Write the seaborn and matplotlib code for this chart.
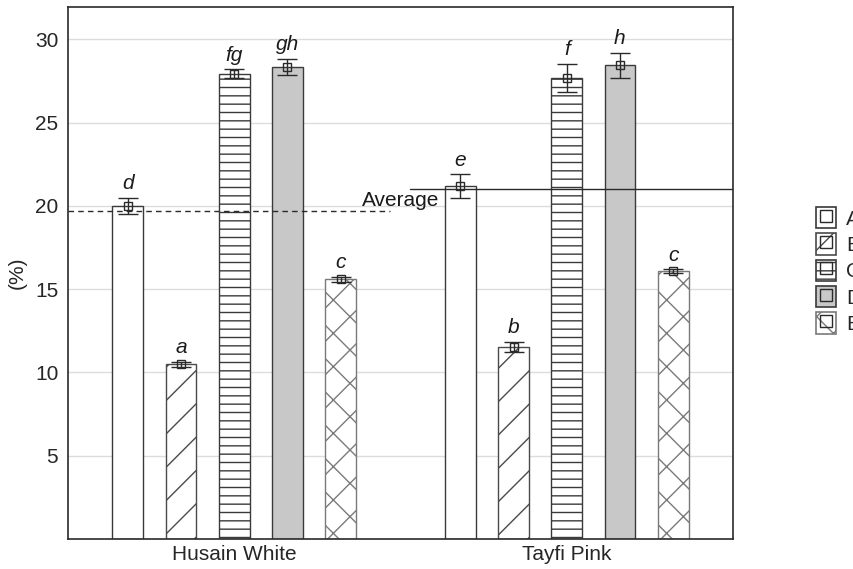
import numpy as np
import pandas as pd
import seaborn as sns
import matplotlib.pyplot as plt
from matplotlib.patches import Patch
from matplotlib.lines import Line2D

# values
cultivars = ["Husain White", "Tayfi Pink"]
treatments = ["A", "B", "C", "D", "E"]
mean_hw = [20.0, 10.5, 27.95, 28.35, 15.6]
mean_tp = [21.2, 11.55, 27.7, 28.45, 16.1]
err_hw = [0.5, 0.15, 0.25, 0.5, 0.15]
err_tp = [0.7, 0.3, 0.85, 0.75, 0.12]
letters_hw = ["d", "a", "fg", "gh", "c"]
letters_tp = ["e", "b", "f", "h", "c"]
avg_hw = 19.7
avg_tp = 21.0

df = pd.DataFrame({
    "cultivar": np.repeat(cultivars, len(treatments)),
    "treatment": treatments * 2,
    "value": mean_hw + mean_tp,
    "err": err_hw + err_tp,
    "letter": letters_hw + letters_tp,
})

sns.set_style("white")
plt.rcParams["font.family"] = ["Liberation Sans", "DejaVu Sans"]
plt.rcParams["hatch.linewidth"] = 1.0

fills = ["white", "white", "white", "#c8c8c8", "white"]
hatches = ["", "/", "--", "", "x"]
edges = ["#3a3a3a", "#4a4a4a", "#3a3a3a", "#3a3a3a", "#7a7a7a"]

fig = plt.figure(figsize=(8.54, 5.69), dpi=100)
ax = fig.add_axes([68/854, 1-539/569, (733-68)/854, (539-7)/569])

sns.barplot(data=df, x="cultivar", y="value", hue="treatment", order=cultivars,
            hue_order=treatments, width=0.8, gap=0.42, errorbar=None,
            palette=["white"]*5, legend=False, ax=ax, zorder=2)

fs = 15
bar_groups = list(ax.containers)
for i, cont in enumerate(bar_groups):
    sub = df[df.treatment == treatments[i]].set_index("cultivar").loc[cultivars]
    xs = []
    for bar in cont:
        bar.set_facecolor(fills[i])
        bar.set_edgecolor(edges[i])
        bar.set_hatch(hatches[i])
        bar.set_linewidth(1.0)
        xs.append(bar.get_x() + bar.get_width()/2)
    ax.errorbar(xs, sub["value"], yerr=sub["err"], fmt="s", ms=5.5, mfc="none",
                mec="#2a2a2a", mew=1.0, ecolor="#2a2a2a", elinewidth=1.0,
                capsize=7, capthick=1.0, zorder=4)
    for x, v, e, t in zip(xs, sub["value"], sub["err"], sub["letter"]):
        ax.annotate(t, (x, v + e), xytext=(0, 6), textcoords="offset points",
                    ha="center", va="baseline", fontsize=fs, style="italic",
                    color="#1a1a1a")

# average lines
ax.plot([-0.5, 0.468], [avg_hw, avg_hw], ls=(0, (4, 3)), color="#2a2a2a", lw=1.0, zorder=3)
ax.plot([0.53, 1.5], [avg_tp, avg_tp], ls="-", color="#2a2a2a", lw=1.0, zorder=3)
ax.text(0.616, 19.97, "Average", ha="right", va="baseline", fontsize=fs, color="#1a1a1a")

ax.set_xlim(-0.5, 1.5)
ax.set_ylim(0, 31.95)
ax.set_yticks([5, 10, 15, 20, 25, 30])
ax.yaxis.grid(True, color="#dcdcdc", lw=1.0, zorder=0)
ax.set_axisbelow(True)
ax.set_xlabel("")
ax.set_ylabel("(%)", fontsize=fs, labelpad=6)
ax.tick_params(axis="y", direction="in", length=3, labelsize=fs, pad=7, color="#2a2a2a")
ax.tick_params(axis="x", direction="in", length=3, labelsize=fs, pad=4, color="#2a2a2a")
for s in ax.spines.values():
    s.set_visible(True)
    s.set_color("#2a2a2a")
    s.set_linewidth(1.2)

# legend
handles = []
for i in range(5):
    p = Patch(facecolor=fills[i], edgecolor=edges[i], hatch=hatches[i], lw=1.2)
    m = Line2D([], [], ls="none", marker="s", ms=8, mfc="none", mec="#2a2a2a", mew=1.0)
    handles.append((p, m))
fig.legend(handles, treatments, loc="upper left", bbox_to_anchor=(816/854, 1-207/569),
           frameon=False, fontsize=fs, handlelength=0.96, handleheight=1.2,
           labelspacing=0.22, handletextpad=0.48, borderpad=0, borderaxespad=0)

fig.savefig("out.png", dpi=100)
